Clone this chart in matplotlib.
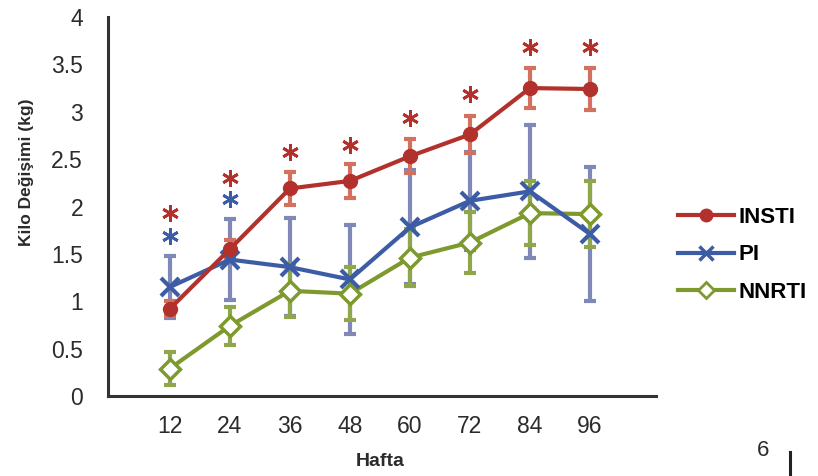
import numpy as np
import matplotlib
matplotlib.use("Agg")
import matplotlib.pyplot as plt
from matplotlib.lines import Line2D

plt.rcParams['font.family'] = ['Liberation Sans', 'DejaVu Sans']

# data
weeks = ['12', '24', '36', '48', '60', '72', '84', '96']
insti = [0.92, 1.55, 2.19, 2.27, 2.53, 2.76, 3.25, 3.24]
insti_err = [0.08, 0.10, 0.17, 0.18, 0.18, 0.20, 0.21, 0.22]
pi = [1.15, 1.44, 1.36, 1.23, 1.78, 2.06, 2.16, 1.71]
pi_err = [0.33, 0.43, 0.52, 0.58, 0.60, 0.52, 0.70, 0.71]
nnrti = [0.29, 0.74, 1.11, 1.08, 1.46, 1.62, 1.93, 1.92]
nnrti_err = [0.17, 0.20, 0.28, 0.28, 0.30, 0.32, 0.34, 0.35]
# significance marks (asterisk heights)
star_red = [1.93, 2.30, 2.57, 2.65, 2.93, 3.19, 3.68, 3.68]
star_blue = [1.69, 2.08]

c_insti, c_insti_e = '#b3312c', '#d4705e'
c_pi, c_pi_e = '#3d5ca6', '#8088b8'
c_nn, c_nn_e = '#7e9a2f', '#8fa64a'

fig = plt.figure(figsize=(8.18, 4.76), dpi=100)
ax = fig.add_axes([108/818, 1-396/476, 548/818, 379/476])
x = np.arange(len(weeks))

ekw = dict(fmt='none', elinewidth=3, capsize=4, capthick=3, zorder=1)
ax.errorbar(x, pi, yerr=pi_err, ecolor=c_pi_e, **ekw)
ax.errorbar(x, nnrti, yerr=nnrti_err, ecolor=c_nn_e, **ekw)
ax.errorbar(x, insti, yerr=insti_err, ecolor=c_insti_e, **ekw)

ax.plot(x, nnrti, color=c_nn, lw=3, marker='D', ms=10, mfc='white',
        mec=c_nn, mew=2.5, zorder=3)
ax.plot(x, pi, color=c_pi, lw=3, marker='x', ms=13, mew=3, zorder=4)
ax.plot(x, insti, color=c_insti, lw=3, marker='o', ms=10, zorder=5)

ax.plot(x, star_red, ls='none', marker=(6, 2, 0), ms=12, mew=2, color=c_insti)
ax.plot(x[:2], star_blue, ls='none', marker=(6, 2, 0), ms=12, mew=2, color=c_pi)

ax.set_xlim(-1.03, 8.1)
ax.set_ylim(0, 4)
ax.set_xticks(x)
ax.set_xticklabels(weeks)
ax.set_yticks(np.arange(0, 4.01, 0.5))
ax.set_yticklabels(['0', '0.5', '1', '1.5', '2', '2.5', '3', '3.5', '4'])
ax.tick_params(length=0, labelsize=16.5, colors='#2b2b2b')
ax.tick_params(axis='y', pad=18)
ax.tick_params(axis='x', pad=14)
for s in ['top', 'right']:
    ax.spines[s].set_visible(False)
for s in ['left', 'bottom']:
    ax.spines[s].set_color('#333333')
    ax.spines[s].set_linewidth(2.2)

fig.text(380/818, 1-462/476, 'Hafta', ha='center', va='center',
         fontsize=14, fontweight='bold', color='#2b2b2b')
fig.text(27/818, 1-172/476, 'Kilo Değişimi (kg)', ha='center', va='center',
         rotation=90, fontsize=12.5, fontweight='bold', color='#2b2b2b')

handles = [
    Line2D([], [], color=c_insti, lw=3, marker='o', ms=9),
    Line2D([], [], color=c_pi, lw=3, marker='x', ms=10, mew=2.5),
    Line2D([], [], color=c_nn, lw=3, marker='D', ms=8, mfc='white', mec=c_nn, mew=2),
]
fig.legend(handles, ['INSTI', 'PI', 'NNRTI'], loc='center left',
           bbox_to_anchor=(678/818, 1-255/476), frameon=False,
           prop=dict(size=16, weight='bold'), handlelength=2.5,
           handletextpad=0.2, labelspacing=0.75, borderpad=0, borderaxespad=0)

# page artefacts at the bottom right
fig.text(763/818, 1-450/476, '6', ha='center', va='center', fontsize=16,
         color='#2b2b2b')
fig.add_artist(Line2D([790/818, 790/818], [0, 1-452/476], color='#222222', lw=2.2))

fig.savefig('out.png', dpi=100)
